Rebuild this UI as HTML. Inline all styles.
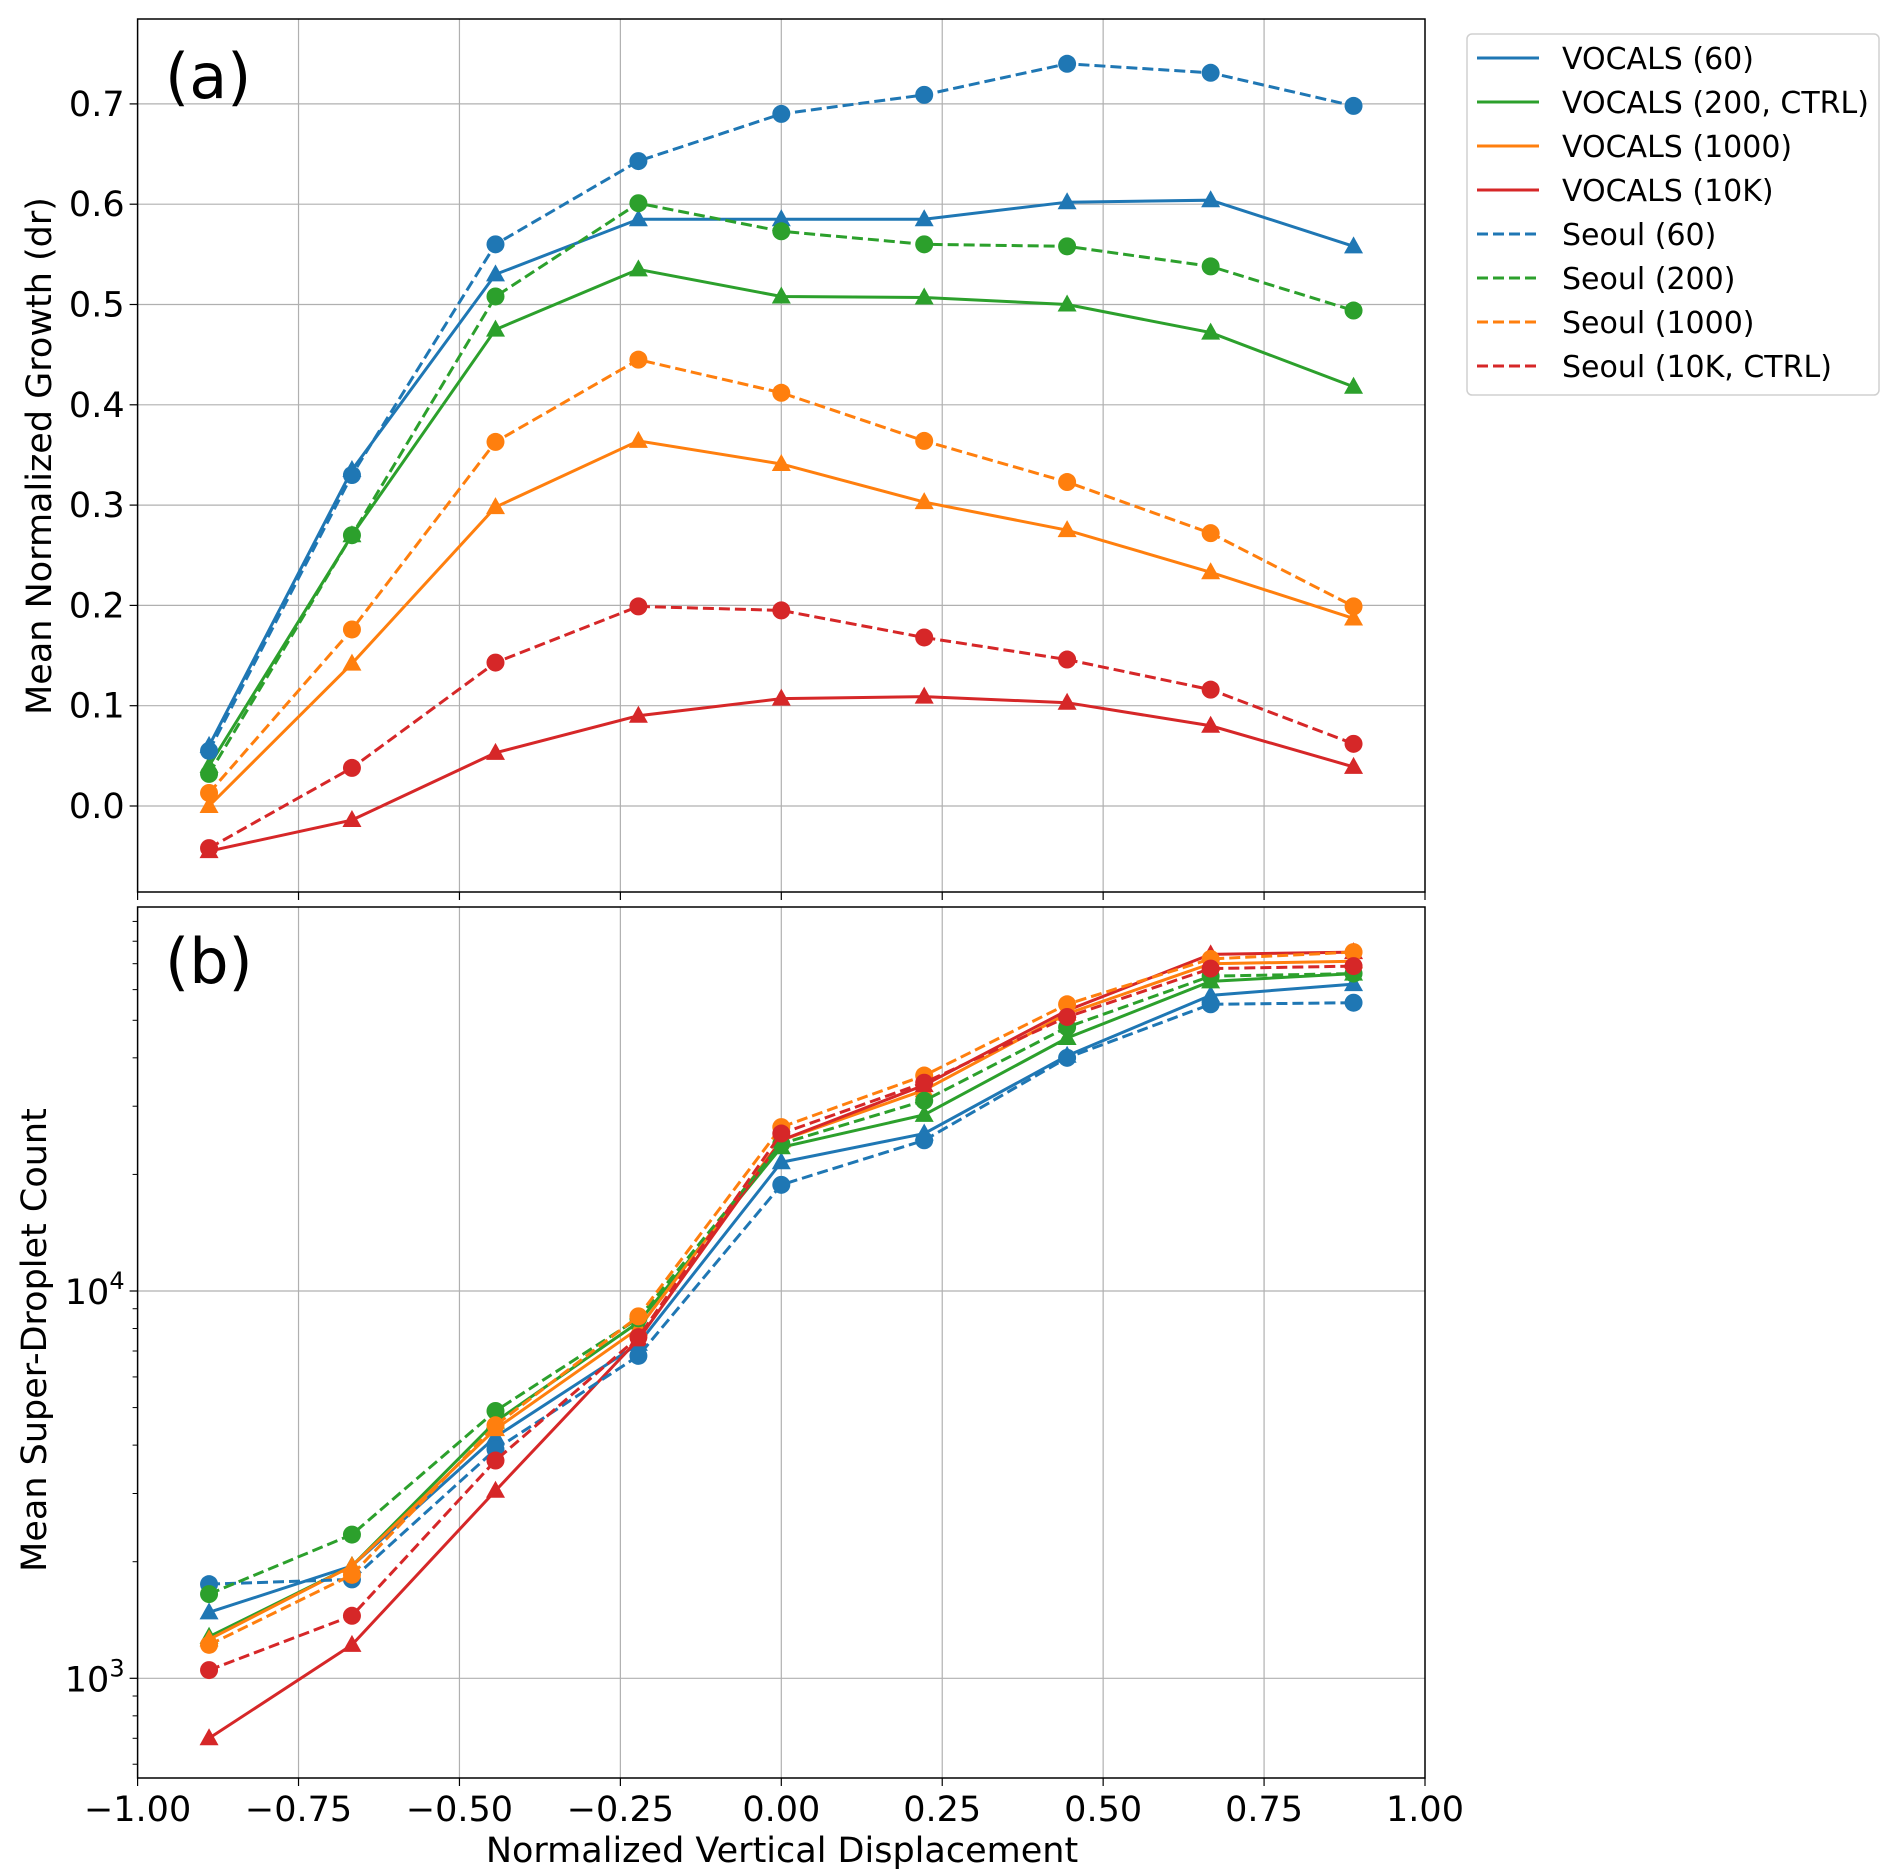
<!DOCTYPE html>
<html><head><meta charset="utf-8"><style>
html,body{margin:0;padding:0;background:#fff;}
svg{display:block;font-family:"DejaVu Sans","Liberation Sans",sans-serif;}
</style></head><body>
<svg id="chart" width="1892" height="1874" viewBox="0 0 1892 1874" xmlns="http://www.w3.org/2000/svg"></svg>
<script>
const xValues=[-0.889,-0.667,-0.444,-0.222,0,0.222,0.444,0.667,0.889];
const xTicks=[-1,-0.75,-0.5,-0.25,0,0.25,0.5,0.75,1];
const xTickLabels=["\u22121.00","\u22120.75","\u22120.50","\u22120.25","0.00","0.25","0.50","0.75","1.00"];
const yTicksA=[0,0.1,0.2,0.3,0.4,0.5,0.6,0.7];
const yTickLabelsA=["0.0","0.1","0.2","0.3","0.4","0.5","0.6","0.7"];
const seriesNames=["VOCALS (60)","VOCALS (200, CTRL)","VOCALS (1000)","VOCALS (10K)","Seoul (60)","Seoul (200)","Seoul (1000)","Seoul (10K, CTRL)"];
const seriesColors=["#1f77b4","#2ca02c","#ff7f0e","#d62728","#1f77b4","#2ca02c","#ff7f0e","#d62728"];
const growthV60=[0.06,0.335,0.53,0.585,0.585,0.585,0.602,0.604,0.558];
const growthV200=[0.04,0.27,0.475,0.535,0.508,0.507,0.50,0.472,0.418];
const growthV1000=[0.0,0.142,0.298,0.364,0.341,0.303,0.275,0.233,0.187];
const growthV10K=[-0.045,-0.014,0.053,0.09,0.107,0.109,0.103,0.08,0.039];
const growthS60=[0.055,0.33,0.56,0.643,0.69,0.709,0.74,0.731,0.698];
const growthS200=[0.032,0.27,0.508,0.601,0.573,0.56,0.558,0.538,0.494];
const growthS1000=[0.013,0.176,0.363,0.445,0.412,0.364,0.323,0.272,0.199];
const growthS10K=[-0.042,0.038,0.143,0.199,0.195,0.168,0.146,0.116,0.062];
const countV60=[1480,1950,4200,7300,21500,25500,40500,58000,62000];
const countV200=[1280,1950,4600,8300,23500,28500,45000,63000,66000];
const countV1000=[1260,1950,4400,8000,24500,33000,52000,70000,71000];
const countV10K=[700,1220,3050,7500,24500,34000,53000,74000,75000];
const countS60=[1750,1800,3900,6800,18800,24500,40000,55000,55500];
const countS200=[1650,2350,4900,8500,24000,31000,48000,65000,66000];
const countS1000=[1220,1850,4500,8600,26500,36000,55000,72000,75000];
const countS10K=[1050,1450,3650,7600,25500,34500,51000,68000,69000];

const growthSeries=[growthV60,growthV200,growthV1000,growthV10K,growthS60,growthS200,growthS1000,growthS10K];
const countSeries=[countV60,countV200,countV1000,countV10K,countS60,countS200,countS1000,countS10K];

const NS="http://www.w3.org/2000/svg";
const svg=document.getElementById('chart');
const L=137.6,R=1425,AT=19,AB=892,BT=907,BB=1778;
function xs(v){return L+(v+1)/2*(R-L);}
function ysA(v){return 806-v*1003;}
function ysB(v){return 1291-(Math.log10(v)-4)*387.3;}
function el(tag,attrs,parent){const e=document.createElementNS(NS,tag);for(const k in attrs)e.setAttribute(k,attrs[k]);(parent||svg).appendChild(e);return e;}
function txt(s,attrs,parent){const e=el('text',attrs,parent);e.textContent=s;return e;}

function panel(top,bottom,name){
  const g=el('g',{});
  
  
  const clip=el('clipPath',{id:'clip-'+name},g);
  el('rect',{x:L,y:top,width:R-L,height:bottom-top},clip);
  return g;
}

const TF=35;
// Panel A
const ga=panel(AT,AB,'panel-a');
xTicks.forEach((t,i)=>{
  const x=xs(t);
  if(i>0&&i<xTicks.length-1){const gl=el('line',{x1:x,x2:x,y1:AT,y2:AB,stroke:'#b0b0b0','stroke-width':1.2},ga);
  }
  el('line',{x1:x,x2:x,y1:AB,y2:AB+8,stroke:'#000','stroke-width':1.2},ga);
});
yTicksA.forEach((t,i)=>{
  const y=ysA(t);
  const gl=el('line',{x1:L,x2:R,y1:y,y2:y,stroke:'#b0b0b0','stroke-width':1.2},ga);
  
  el('line',{x1:L-8,x2:L,y1:y,y2:y,stroke:'#000','stroke-width':1.2},ga);
  const tl=txt(yTickLabelsA[i],{x:L-13,y:y+12,'font-size':TF,'text-anchor':'end',fill:'#000'},ga);
  
});
function drawSeries(g,data,scale,clipId){
  data.forEach((arr,si)=>{
    const sg=el('g',{'clip-path':'url(#'+clipId+')'},g);
    
    
    const pts=arr.map((v,i)=>xs(xValues[i])+','+scale(v)).join(' ');
    const attrs={points:pts,fill:'none',stroke:seriesColors[si],'stroke-width':3};
    if(si>=4)attrs['stroke-dasharray']='11,5';
    el('polyline',attrs,sg);
    arr.forEach((v,i)=>{
      const x=xs(xValues[i]),y=scale(v);
      let m;
      if(si<4){m=el('polygon',{points:`${x},${y-10} ${x-9.5},${y+7} ${x+9.5},${y+7}`,fill:seriesColors[si]},sg);}
      else{m=el('circle',{cx:x,cy:y,r:9,fill:seriesColors[si]},sg);}
      
      
    });
  });
}
drawSeries(ga,growthSeries,ysA,'clip-panel-a');
el('rect',{x:L,y:AT,width:R-L,height:AB-AT,fill:'none',stroke:'#000','stroke-width':1.5},ga);
const la=txt('(a)',{x:165,y:98,'font-size':62,fill:'#000'},ga);

const yla=txt('Mean Normalized Growth (dr)',{x:0,y:0,'font-size':TF,'text-anchor':'middle',transform:'translate(51,456) rotate(-90)',fill:'#000'},ga);


// Panel B
const gb=panel(BT,BB,'panel-b');
xTicks.forEach((t,i)=>{
  const x=xs(t);
  if(i>0&&i<xTicks.length-1){const gl=el('line',{x1:x,x2:x,y1:BT,y2:BB,stroke:'#b0b0b0','stroke-width':1.2},gb);
  }
  el('line',{x1:x,x2:x,y1:BB,y2:BB+8,stroke:'#000','stroke-width':1.2},gb);
  const tl=txt(xTickLabels[i],{x:x,y:BB+43,'font-size':TF,'text-anchor':'middle',fill:'#000'},gb);
  
});
[1000,10000].forEach((t,i)=>{
  const y=ysB(t);
  const gl=el('line',{x1:L,x2:R,y1:y,y2:y,stroke:'#b0b0b0','stroke-width':1.2},gb);
  
  el('line',{x1:L-8,x2:L,y1:y,y2:y,stroke:'#000','stroke-width':1.2},gb);
  const tl=el('text',{x:L-13,y:y+13,'font-size':TF,'text-anchor':'end',fill:'#000'},gb);
  
  tl.appendChild(document.createTextNode('10'));
  const sup=el('tspan',{dy:-15,'font-size':24},tl);sup.textContent=(i===0?'3':'4');
});
[600,700,800,900,2000,3000,4000,5000,6000,7000,8000,9000,20000,30000,40000,50000,60000,70000,80000,90000].forEach(v=>{
  const y=ysB(v);if(y<BT||y>BB)return;
  el('line',{x1:L-5,x2:L,y1:y,y2:y,stroke:'#000','stroke-width':1},gb);
});
drawSeries(gb,countSeries,ysB,'clip-panel-b');
el('rect',{x:L,y:BT,width:R-L,height:BB-BT,fill:'none',stroke:'#000','stroke-width':1.5},gb);
const lb=txt('(b)',{x:165,y:983,'font-size':62,fill:'#000'},gb);

const ylb=txt('Mean Super-Droplet Count',{x:0,y:0,'font-size':TF,'text-anchor':'middle',transform:'translate(46,1340) rotate(-90)',fill:'#000'},gb);

const xl=txt('Normalized Vertical Displacement',{x:782,y:1862,'font-size':TF,'text-anchor':'middle',fill:'#000'});


// Legend
const lg=el('g',{});


el('rect',{x:1467,y:34,width:412,height:361,rx:5,fill:'#fff',stroke:'#d0d0d0','stroke-width':1.5},lg);
seriesNames.forEach((n,i)=>{
  const y=58+i*44;
  const eg=el('g',{},lg);
  
  
  const a={x1:1477,x2:1539,y1:y,y2:y,stroke:seriesColors[i],'stroke-width':3};
  if(i>=4)a['stroke-dasharray']='11,5';
  el('line',a,eg);
  txt(n,{x:1562,y:y+11,'font-size':30,fill:'#000'},eg);
});
</script>
</body></html>
